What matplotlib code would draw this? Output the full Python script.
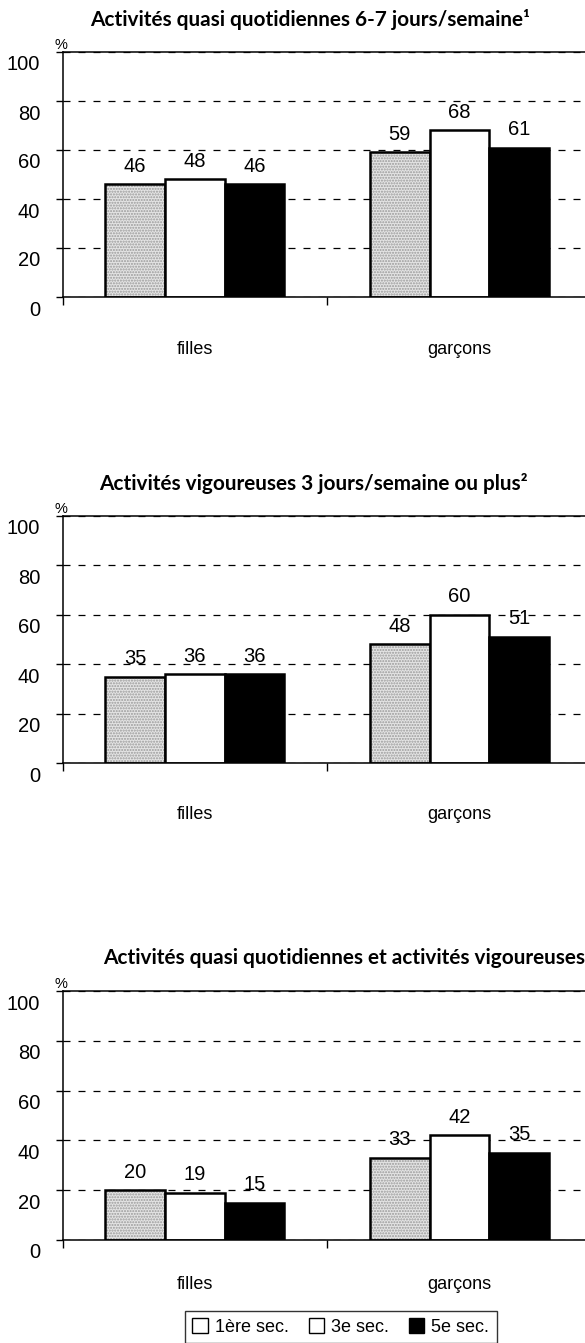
import matplotlib
matplotlib.use("Agg")
import matplotlib.pyplot as plt
from matplotlib.patches import Patch
from matplotlib.transforms import ScaledTranslation

categories = ["filles", "garçons"]
series = ["1ère sec.", "3e sec.", "5e sec."]

titles = [
    "Activités quasi quotidiennes 6-7 jours/semaine¹",
    "Activités vigoureuses 3 jours/semaine ou plus²",
    "Activités quasi quotidiennes et activités vigoureuses",
]

# values per panel: one list per series (1ère, 3e, 5e), one value per category
quotidiennes = [[46, 59], [48, 68], [46, 61]]
vigoureuses = [[35, 48], [36, 60], [36, 51]]
les_deux = [[20, 33], [19, 42], [15, 35]]
panels = [quotidiennes, vigoureuses, les_deux]

yticks = [0, 20, 40, 60, 80, 100]

num_font = ["Liberation Sans", "DejaVu Sans"]
title_font = ["Lato", "DejaVu Sans"]

W, H = 585, 1343
DPI = 100
fig = plt.figure(figsize=(W / DPI, H / DPI), dpi=DPI)

# pixel layout per panel: top of axes, zero line, centre of x labels, title y, title left x
layout = [
    (52, 297, 350, 20, 90),
    (516, 763, 815, 483, 99),
    (991, 1240, 1285, 958, 103),
]

left_px = 62.5
group_px = 264.7
bar_w = 59.7 / group_px
xmax = -0.5 + (W - left_px) / group_px

fills = ["#e4e4e4", "white", "black"]

title_texts = []
for vals, title, (top, zero, lab_y, ty, tx) in zip(panels, titles, layout):
    ax = fig.add_axes([left_px / W, 1 - zero / H, 1 - left_px / W, (zero - top) / H])
    ax.set_xlim(-0.5, xmax)
    ax.set_ylim(0, 100)

    for i, s in enumerate(vals):
        xs = [c + (i - 1) * bar_w for c in range(len(categories))]
        if i == 0:
            ax.bar(xs, s, width=bar_w, color=fills[i], hatch="......",
                   edgecolor="#9a9a9a", linewidth=0, zorder=2)
            ax.bar(xs, s, width=bar_w, fill=False, edgecolor="black",
                   linewidth=1.8, zorder=3)
        else:
            ax.bar(xs, s, width=bar_w, color=fills[i], edgecolor="black",
                   linewidth=1.8, zorder=3)
        for x, v in zip(xs, s):
            ax.annotate(str(v), (x, v), xytext=(0, 13), textcoords="offset points",
                        ha="center", va="center", fontsize=14.5, family=num_font)

    ax.set_yticks(yticks)
    ax.set_yticklabels([str(t) for t in yticks], fontsize=14.5, family=num_font)
    ax.tick_params(axis="y", direction="out", length=5, width=1, pad=11)
    off = ScaledTranslation(0, -11 / DPI, fig.dpi_scale_trans)
    for lab in ax.get_yticklabels():
        lab.set_transform(lab.get_transform() + off)

    ax.set_xticks([-0.5, 0.5])
    ax.set_xticklabels(["", ""])
    ax.set_xticks(range(len(categories)), minor=True)
    ax.set_xticklabels(categories, minor=True, fontsize=13, family=num_font)
    ax.tick_params(axis="x", which="major", direction="out", length=6, width=1)
    ax.tick_params(axis="x", which="minor", length=0, pad=(lab_y - zero - 9) * 0.72)

    ax.yaxis.grid(True, color="black", linestyle=(0, (5.6, 6.4)), linewidth=0.9)
    ax.set_axisbelow(True)
    ax.spines["right"].set_visible(False)
    for sp in ["left", "bottom", "top"]:
        ax.spines[sp].set_linewidth(1.1)
        ax.spines[sp].set_zorder(4)

    ax.text(-0.003, 1, "%", transform=ax.transAxes, ha="center", va="bottom",
            fontsize=10.5, family=num_font)

    t = fig.text(tx / W, 1 - ty / H, title, ha="left", va="center", fontsize=13,
                 fontweight="bold", family=title_font)
    title_texts.append(t)

# size the titles so the first one spans the same width as in the source
fig.canvas.draw()
renderer = fig.canvas.get_renderer()
w0 = title_texts[0].get_window_extent(renderer).width
fs = 13 * 440 / w0
for t in title_texts:
    t.set_fontsize(fs)

handles = [Patch(facecolor=c, edgecolor="black", linewidth=1) for c in ["white", "white", "black"]]
fig.legend(handles, series, loc="upper left", bbox_to_anchor=(176 / W, 1 - 1302 / H),
           ncol=3, frameon=True, fancybox=False, edgecolor="black",
           handlelength=0.85, handleheight=0.85, handletextpad=0.4, columnspacing=1.1,
           borderpad=0.4, prop={"family": num_font, "size": 13})

fig.savefig("out.png", dpi=DPI)
